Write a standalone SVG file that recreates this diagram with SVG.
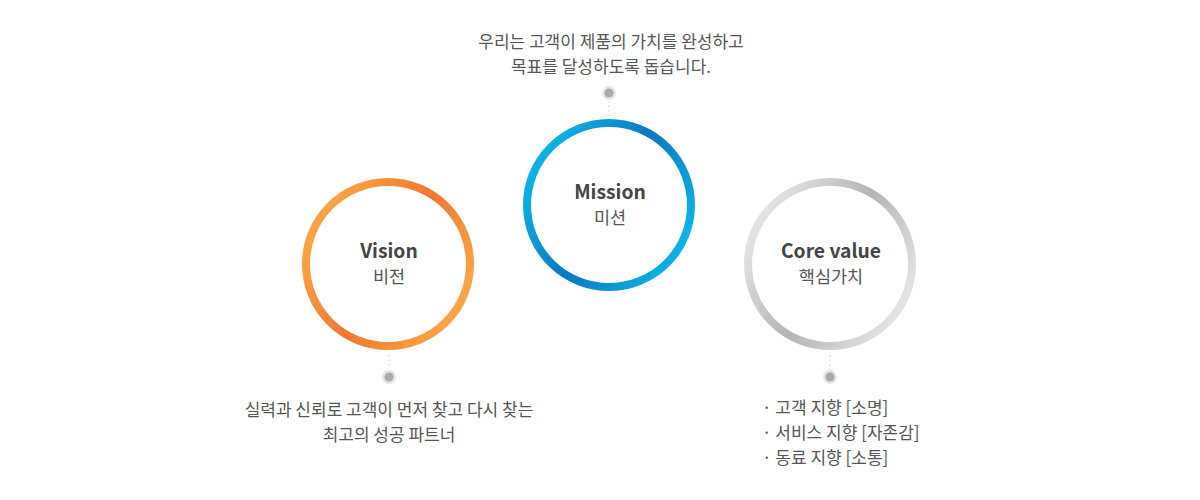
<svg xmlns="http://www.w3.org/2000/svg" width="1200" height="500" viewBox="0 0 1200 500">
<style>
.ring{fill:#fff;stroke-width:8}
.title{font-family:"Noto Sans CJK KR","Noto Sans",sans-serif;font-weight:700;font-size:19.3px;fill:#444;text-anchor:middle}
.sub{font-family:"Noto Sans CJK KR","Noto Sans",sans-serif;font-size:17.5px;fill:#555;text-anchor:middle}
.txt{font-family:"Noto Sans CJK KR","Noto Sans",sans-serif;font-size:17px;fill:#555}
.mid{text-anchor:middle}
.dline{stroke:#ccc;stroke-width:1;stroke-dasharray:1.5 3}
.dot-o{fill:#e6e6e6}
.dot-i{fill:#aaa}
</style>
<defs>
<linearGradient id="gO" x1="0.07" y1="0.25" x2="0.93" y2="0.75">
<stop offset="0" stop-color="#f9a444"/><stop offset="0.5" stop-color="#f07832"/><stop offset="1" stop-color="#f9a444"/>
</linearGradient>
<linearGradient id="gB" x1="0.07" y1="0.25" x2="0.93" y2="0.75">
<stop offset="0" stop-color="#0bb2e2"/><stop offset="0.5" stop-color="#0a78c0"/><stop offset="1" stop-color="#0bb2e2"/>
</linearGradient>
<linearGradient id="gG" x1="0.07" y1="0.25" x2="0.93" y2="0.75">
<stop offset="0" stop-color="#e2e2e2"/><stop offset="0.5" stop-color="#b4b4b4"/><stop offset="1" stop-color="#e2e2e2"/>
</linearGradient>
</defs>
<g id="connectors">
<line class="dline" x1="389" y1="355" x2="389" y2="369"/>
<line class="dline" x1="609" y1="101" x2="609" y2="117"/>
<line class="dline" x1="830" y1="355" x2="830" y2="369"/>
</g>
<g id="vision">
<circle class="ring" cx="388" cy="264" r="82" stroke="url(#gO)"/>
<text class="title" x="389" y="258">Vision</text>
<text class="sub" x="389" y="283">비전</text>
<circle class="dot-o" cx="389" cy="377" r="7"/>
<circle class="dot-i" cx="389" cy="377" r="4.5"/>
<text class="txt mid" x="389" y="416">실력과 신뢰로 고객이 먼저 찾고 다시 찾는</text>
<text class="txt mid" x="389" y="441">최고의 성공 파트너</text>
</g>
<g id="mission">
<circle class="ring" cx="609" cy="205" r="82" stroke="url(#gB)"/>
<text class="title" x="610" y="199">Mission</text>
<text class="sub" x="610" y="224">미션</text>
<circle class="dot-o" cx="609" cy="93" r="7"/>
<circle class="dot-i" cx="609" cy="93" r="4.5"/>
<text class="txt mid" x="611" y="48">우리는 고객이 제품의 가치를 완성하고</text>
<text class="txt mid" x="611" y="73">목표를 달성하도록 돕습니다.</text>
</g>
<g id="corevalue">
<circle class="ring" cx="830" cy="264" r="82" stroke="url(#gG)"/>
<text class="title" x="831" y="258">Core value</text>
<text class="sub" x="831" y="283">핵심가치</text>
<circle class="dot-o" cx="830" cy="377" r="7"/>
<circle class="dot-i" cx="830" cy="377" r="4.5"/>
<text class="txt" x="762" y="414">· 고객 지향 [소명]</text>
<text class="txt" x="762" y="439">· 서비스 지향 [자존감]</text>
<text class="txt" x="762" y="464">· 동료 지향 [소통]</text>
</g>
</svg>
